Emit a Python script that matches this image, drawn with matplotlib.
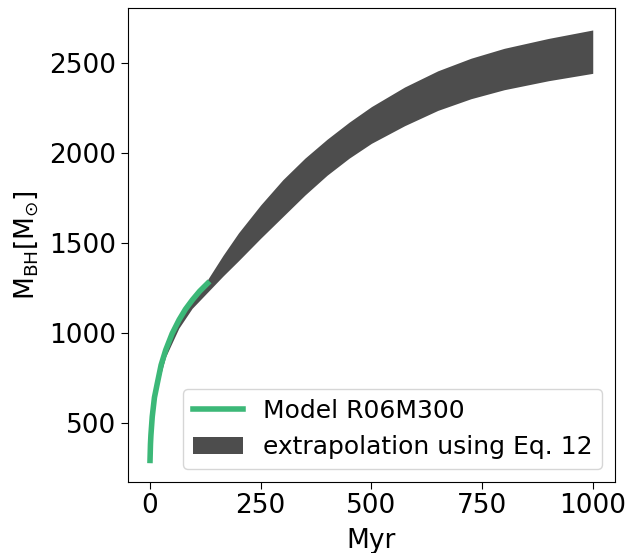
import matplotlib
matplotlib.use("Agg")
import matplotlib.pyplot as plt
import numpy as np

# Model R06M300 curve
model_t = [0, 1, 2, 5, 10, 16.5, 25, 35.5, 50, 65.6, 80, 95.7, 112, 130]
model_m = [290, 380, 430, 533, 640, 719, 820, 904, 995, 1071, 1130, 1182, 1230, 1274]

# extrapolation band (upper / lower edges)
band_t = [0, 5, 16, 35, 65, 95, 130, 165, 200, 250, 300, 350, 400, 450, 500,
          575, 650, 725, 800, 900, 1000]
band_hi = [290, 535, 725, 915, 1085, 1195, 1295, 1430, 1555, 1710, 1850, 1970,
           2075, 2170, 2256, 2365, 2455, 2525, 2580, 2635, 2682]
band_lo = [290, 520, 695, 865, 1025, 1135, 1225, 1315, 1400, 1525, 1645, 1765,
           1875, 1970, 2052, 2150, 2235, 2300, 2350, 2400, 2441]

xticks = [0, 250, 500, 750, 1000]
yticks = [500, 1000, 1500, 2000, 2500]

plt.rcParams['font.family'] = ['DejaVu Sans']
fig = plt.figure(figsize=(6.3, 5.53), dpi=100)
ax = fig.add_axes([0.203, 0.129, 0.773, 0.8565])

ax.plot(model_t, model_m, color='#3cb878', lw=4, label='Model R06M300', zorder=3)
ax.fill_between(band_t, band_lo, band_hi, color='#4d4d4d', lw=0,
                label='extrapolation using Eq. 12', zorder=2)

ax.set_xlim(-50, 1050)
ax.set_ylim(172, 2804)
ax.set_xticks(xticks)
ax.set_yticks(yticks)
ax.tick_params(labelsize=19, length=5)
ax.set_xlabel('Myr', fontsize=19, labelpad=6)
ax.set_ylabel(r'$\mathrm{M_{BH} [M_{\odot}]}$', fontsize=19, labelpad=6)
ax.legend(loc='lower right', fontsize=18)

fig.savefig('out.png', dpi=100)
